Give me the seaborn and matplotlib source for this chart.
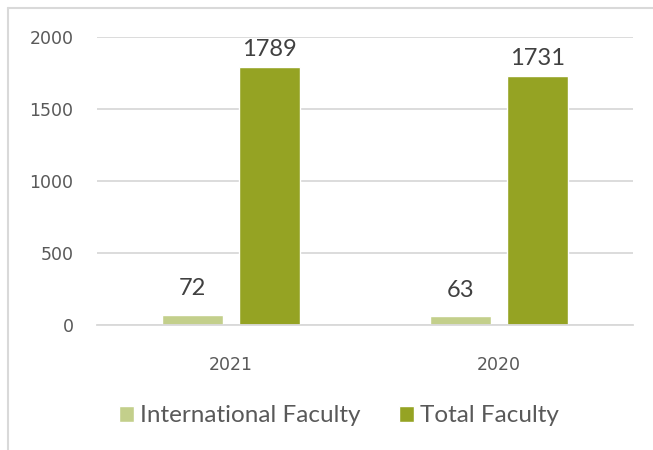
import matplotlib
matplotlib.use("Agg")
import matplotlib.pyplot as plt
import seaborn as sns
import pandas as pd
from matplotlib.lines import Line2D

years = ["2021", "2020"]
series_names = ["International Faculty", "Total Faculty"]
international = [72, 63]
total = [1789, 1731]
y_ticks = [0, 500, 1000, 1500, 2000]

df = pd.DataFrame({
    "year": years * 2,
    "series": [series_names[0]] * 2 + [series_names[1]] * 2,
    "value": international + total,
})

sns.set_theme(style="white")
plt.rcParams["font.family"] = ["Lato", "DejaVu Sans"]

colors = ["#c3cf8b", "#95a323"]

fig = plt.figure(figsize=(6.53, 4.5), dpi=100)
ax = fig.add_axes([97 / 653, 1 - 325 / 450, 536 / 653, 288 / 450])

sns.barplot(data=df, x="year", y="value", hue="series", order=years,
            hue_order=series_names, palette=colors, width=0.575, gap=0.22,
            saturation=1, ax=ax, legend=True)

ax.set_xlim(-0.5, 1.5)
ax.set_ylim(0, 2000)
ax.set_yticks(y_ticks)
ax.set_yticklabels([str(t) for t in y_ticks])
ax.set_xlabel("")
ax.set_ylabel("")
for s in ["top", "right", "left"]:
    ax.spines[s].set_visible(False)
ax.spines["bottom"].set_color("#d9d9d9")
ax.spines["bottom"].set_linewidth(1.3)
ax.yaxis.grid(True, color="#d9d9d9", linewidth=1.3)
ax.set_axisbelow(True)
ax.tick_params(axis="y", length=0, pad=17, labelsize=12.5, labelcolor="#595959")
ax.tick_params(axis="x", length=0, pad=22, labelsize=12.5, labelcolor="#595959")
for lbl in ax.get_xticklabels() + ax.get_yticklabels():
    lbl.set_family("DejaVu Sans")

pads = [11, 5]
for cont, p in zip(ax.containers, pads):
    ax.bar_label(cont, padding=p, fontsize=17, color="#404040")

leg = ax.legend(loc="center", bbox_to_anchor=(339 / 653, 1 - 416 / 450),
                bbox_transform=fig.transFigure, ncol=2, frameon=False,
                fontsize=17.5, handlelength=0.62, handleheight=0.62,
                handletextpad=0.25, columnspacing=1.55)
for t in leg.get_texts():
    t.set_color("#595959")

# chart border (left and top visible)
fig.add_artist(Line2D([7.5 / 653, 7.5 / 653], [0, 1 - 7.5 / 450],
                      transform=fig.transFigure, color="#d9d9d9", linewidth=1.5))
fig.add_artist(Line2D([7.5 / 653, 1], [1 - 7.5 / 450, 1 - 7.5 / 450],
                      transform=fig.transFigure, color="#d9d9d9", linewidth=1.5))

fig.savefig("out.png", dpi=100)
